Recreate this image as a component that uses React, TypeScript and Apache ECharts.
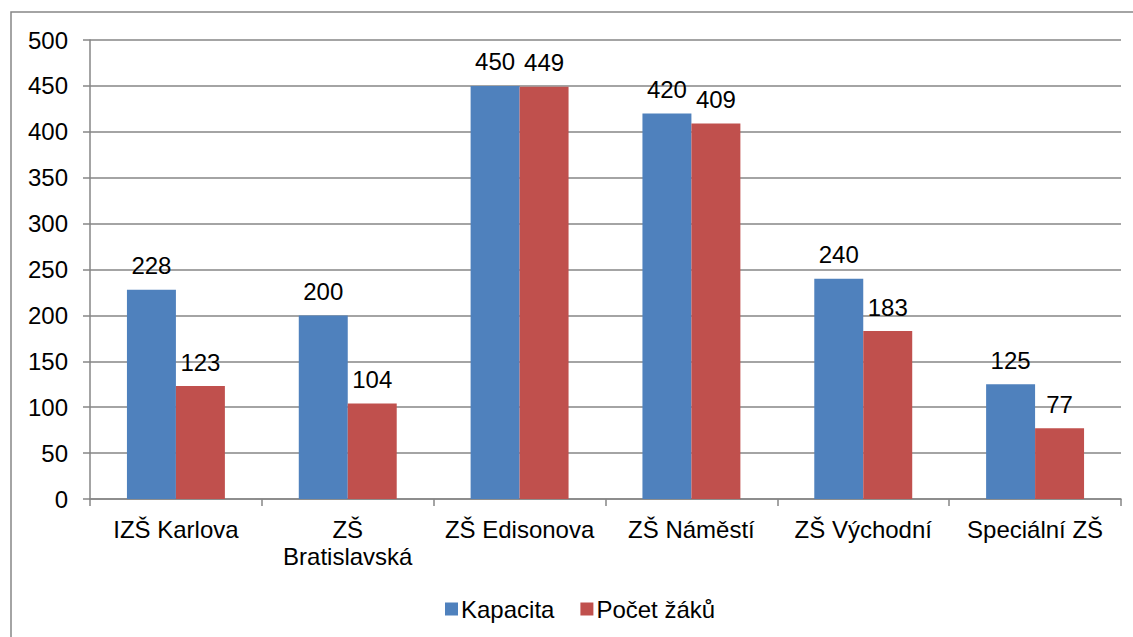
import React, { useEffect, useRef } from "react";
import * as echarts from "echarts";

const categories = ["IZŠ Karlova", "ZŠ\nBratislavská", "ZŠ Edisonova", "ZŠ Náměstí", "ZŠ Východní", "Speciální ZŠ"];
const kapacita = [228, 200, 450, 420, 240, 125];
const pocetZaku = [123, 104, 449, 409, 183, 77];
const seriesNames = ["Kapacita", "Počet žáků"];

export default function App() {
  const ref = useRef<HTMLDivElement>(null);
  useEffect(() => {
    const chart = echarts.init(ref.current!, null, { renderer: "svg" });
    const font = "Arial, 'Liberation Sans', sans-serif";
    const gray = "#868686";
    const fs = 24;
    chart.setOption({
      animation: false,
      backgroundColor: "#ffffff",
      textStyle: { fontFamily: font },
      graphic: [
        {
          type: "rect",
          shape: { x: 11, y: 12, width: 1140, height: 640 },
          style: { fill: "none", stroke: gray, lineWidth: 1.5 },
          silent: true,
        },
      ],
      grid: { left: 90, right: 12, top: 40, bottom: 138, containLabel: false },
      legend: {
        left: 440,
        top: 592,
        itemWidth: 13,
        itemHeight: 13,
        itemGap: 26,
        icon: "rect",
        textStyle: { fontSize: fs, color: "#000", fontFamily: font, padding: [0, 0, 0, -2] },
        data: seriesNames,
      },
      xAxis: {
        type: "category",
        data: categories,
        axisLine: { lineStyle: { color: gray, width: 1.5 } },
        axisTick: { show: true, length: 7, lineStyle: { color: gray, width: 1.5 }, alignWithLabel: false },
        axisLabel: { fontSize: fs, color: "#000", margin: 17, lineHeight: 27, interval: 0 },
      },
      yAxis: {
        type: "value",
        min: 0,
        max: 500,
        interval: 50,
        axisLine: { show: true, lineStyle: { color: gray, width: 1.5 } },
        axisTick: { show: true, length: 7, lineStyle: { color: gray, width: 1.5 } },
        splitLine: { lineStyle: { color: gray, width: 1.5 } },
        axisLabel: { fontSize: fs, color: "#000", margin: 22 },
      },
      series: [
        {
          name: seriesNames[0],
          type: "bar",
          data: kapacita,
          barGap: "0%",
          barCategoryGap: "43%",
          itemStyle: { color: "#4F81BD" },
          label: { show: true, position: "top", distance: 12, fontSize: fs, color: "#000" },
        },
        {
          name: seriesNames[1],
          type: "bar",
          data: pocetZaku,
          barGap: "0%",
          barCategoryGap: "43%",
          itemStyle: { color: "#C0504D" },
          label: { show: true, position: "top", distance: 12, fontSize: fs, color: "#000" },
        },
      ],
    });
    return () => chart.dispose();
  }, []);
  return (
    <div
      ref={ref}
      style={{ position: "fixed", left: 0, top: 0, width: 1133, height: 637, background: "#fff" }}
    />
  );
}
